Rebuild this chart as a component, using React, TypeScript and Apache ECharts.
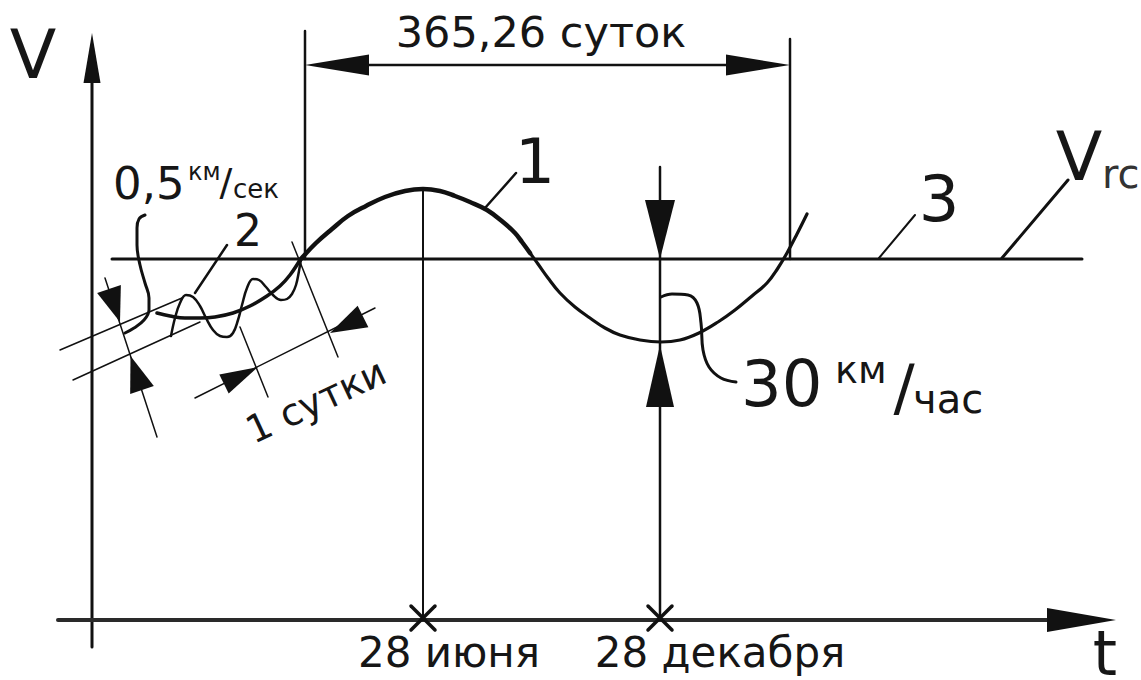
import React, { useEffect, useRef } from "react";
import * as echarts from "echarts";

type Pt = [number, number];

// ---- Diagram coordinates (x to the right, y downward) ----
const vAxisLine: Pt[] = [[92, 647], [92, 80]];
const tAxisLine: Pt[] = [[58, 620], [1050, 620]];
const vrcLine: Pt[] = [[112, 259], [1082, 259]];

// curve 1 : annual variation of velocity
const curve1Left: Pt[] = [
  [157, 313], [170, 316], [185, 318], [200, 318], [215, 317], [233, 313], [250, 306],
  [267, 296], [280, 286], [290, 275], [300, 260],
];
const curve1Top: Pt[] = [
  [300, 260], [316, 243], [332, 229], [348, 216], [366, 206], [385, 197], [405, 191],
  [423, 189], [440, 191], [455, 196], [470, 202], [487, 210], [503, 222], [515, 233],
  [522, 242], [530, 253],
];
const curve1Bottom: Pt[] = [
  [530, 253], [538, 264], [548, 278], [560, 293], [575, 307], [590, 318], [605, 328],
  [620, 335], [640, 340], [661, 342], [680, 340], [699, 333], [718, 322], [735, 310],
  [752, 296], [767, 283], [778, 268], [787, 253], [797, 234], [807, 214],
];
// curve 2 : daily oscillation
const curve2Wave: Pt[] = [
  [171, 336], [175, 318], [180, 303], [186, 295], [193, 297], [200, 306], [206, 318],
  [213, 330], [220, 336], [227, 337], [233, 333], [238, 320], [242, 305], [247, 288],
  [253, 279], [259, 280], [266, 287], [273, 295], [281, 300], [287, 299], [292, 294],
  [296, 285], [299, 271], [301, 259],
];

// dimension "365,26 суток"
const yearExtLeft: Pt[] = [[305, 31], [305, 259]];
const yearExtRight: Pt[] = [[790, 39], [790, 259]];
const yearDim: Pt[] = [[320, 65], [775, 65]];

// drop lines to the time axis
const juneDrop: Pt[] = [[423, 190], [423, 620]];
const decDrop: Pt[] = [[660, 167], [660, 620]];
const crossJuneA: Pt[] = [[411, 606], [435, 630]];
const crossJuneB: Pt[] = [[411, 630], [435, 606]];
const crossDecA: Pt[] = [[648, 606], [672, 630]];
const crossDecB: Pt[] = [[648, 630], [672, 606]];

// leaders
const leader1: Pt[] = [[485, 208], [516, 173]];
const leader2: Pt[] = [[195, 293], [227, 245]];
const leader3: Pt[] = [[879, 258], [915, 215]];
const leaderVrc: Pt[] = [[1002, 258], [1068, 180]];
const leader05: Pt[] = [
  [145, 215], [139, 219], [137, 228], [137, 245], [140, 265], [145, 283], [149, 298],
  [149, 310], [144, 320], [134, 328], [125, 333],
];
const leader30: Pt[] = [
  [661, 297], [672, 294], [688, 295], [697, 303], [701, 323], [703, 350], [709, 367],
  [721, 378], [736, 382],
];

// dimension "0,5 км/сек"
const ampLineA: Pt[] = [[60, 350], [182, 298]];
const ampLineB: Pt[] = [[73, 380], [200, 322]];
const ampDim: Pt[] = [[105, 278], [157, 437]];

// dimension "1 сутки"
const dayExt1: Pt[] = [[240, 327], [268, 397]];
const dayExt2: Pt[] = [[292, 242], [338, 357]];
const dayDim: Pt[] = [[195, 398], [375, 308]];

// arrowheads: tipX, tipY, baseX, baseY, half width (px)
const arrowheads: number[][] = [
  [92, 33, 92, 83, 8.5],
  [1116, 620, 1047, 620, 12],
  [305, 65, 369, 65, 10.5],
  [790, 65, 726, 65, 10.5],
  [660, 259, 660, 200, 15],
  [660, 345, 660, 407, 14],
  [120, 322, 109, 289, 12.5],
  [130.5, 356, 142, 390, 12.5],
  [258, 367, 224, 384, 10.5],
  [330, 333, 363, 316.5, 12],
];

// texts
const labelTexts = [
  "V", "t", "365,26 суток", "1", "2", "3", "V", "rc",
  "0,5", "км", "/", "сек", "30", "км", "/", "час",
  "28 июня", "28 декабря", "1 сутки",
];
const labelPos: Pt[] = [
  [33, 54], [1105, 653], [541, 32], [535, 161], [248, 230], [939, 199], [1079, 156], [1102, 174],
  [113, 183], [188, 172], [226, 182], [233, 189], [741, 384], [835, 370], [904, 387], [913, 399],
  [449, 652], [720, 652], [316, 401],
];
const labelSizes = [68, 62, 43, 63, 44, 64, 68, 40, 45, 24, 38, 26, 64, 38, 63, 40, 42, 42, 38];
const labelAlign = [
  "center", "center", "center", "center", "center", "center", "center", "left",
  "left", "left", "center", "left", "left", "left", "center", "left",
  "center", "center", "center",
];
const labelRotation = [0, 0, 0, 0, 0, 0, 0, 0, 0, 0, 0, 0, 0, 0, 0, 0, 0, 0, 0.436];

const INK = "#111";

function lineSeries(data: Pt[], width: number, smooth: number | boolean = false, color = INK) {
  return {
    type: "line",
    data,
    smooth,
    symbol: "none",
    silent: true,
    clip: false,
    lineStyle: { width, color, cap: "round", join: "round" },
    z: 2,
  };
}

export default function App() {
  const ref = useRef<HTMLDivElement>(null);
  useEffect(() => {
    document.body.style.margin = "0";
    if (!ref.current) return;
    const chart = echarts.init(ref.current, null, { renderer: "svg" });
    const series: any[] = [
      lineSeries(vAxisLine, 3),
      lineSeries(tAxisLine, 4, false, "#2a2a2a"),
      lineSeries(vrcLine, 3),
      lineSeries(curve1Left, 3.5, 0.4),
      lineSeries(curve1Top, 4.5, 0.4),
      lineSeries(curve1Bottom, 3.2, 0.4),
      lineSeries(curve2Wave, 2.5, 0.4),
      lineSeries(yearExtLeft, 2.5),
      lineSeries(yearExtRight, 2.5),
      lineSeries(yearDim, 2.5),
      lineSeries(juneDrop, 2),
      lineSeries(decDrop, 2.5),
      lineSeries(crossJuneA, 3.5),
      lineSeries(crossJuneB, 3.5),
      lineSeries(crossDecA, 3.5),
      lineSeries(crossDecB, 3.5),
      lineSeries(leader1, 2.5),
      lineSeries(leader2, 2.5),
      lineSeries(leader3, 2),
      lineSeries(leaderVrc, 3),
      lineSeries(leader05, 3, 0.4),
      lineSeries(leader30, 3, 0.4),
      lineSeries(ampLineA, 1.5),
      lineSeries(ampLineB, 1.5),
      lineSeries(ampDim, 1.5),
      lineSeries(dayExt1, 1.5),
      lineSeries(dayExt2, 1.5),
      lineSeries(dayDim, 1.5),
      {
        type: "custom",
        silent: true,
        clip: false,
        z: 3,
        data: arrowheads.map((a) => [a[0], a[1]]),
        renderItem: (params: any, api: any) => {
          const a = arrowheads[params.dataIndex];
          const t = api.coord([a[0], a[1]]);
          const b = api.coord([a[2], a[3]]);
          const dx = t[0] - b[0];
          const dy = t[1] - b[1];
          const len = Math.hypot(dx, dy) || 1;
          const nx = -dy / len;
          const ny = dx / len;
          const hw = a[4];
          return {
            type: "polygon",
            shape: {
              points: [
                [t[0], t[1]],
                [b[0] + nx * hw, b[1] + ny * hw],
                [b[0] - nx * hw, b[1] - ny * hw],
              ],
            },
            style: { fill: INK },
          };
        },
      },
      {
        type: "custom",
        silent: true,
        clip: false,
        z: 4,
        data: labelPos,
        renderItem: (params: any, api: any) => {
          const i = params.dataIndex;
          const p = api.coord(labelPos[i]);
          return {
            type: "text",
            x: p[0],
            y: p[1],
            rotation: labelRotation[i],
            style: {
              text: labelTexts[i],
              fontSize: labelSizes[i],
              lineHeight: Math.round(labelSizes[i] * 0.8),
              fontFamily: "DejaVu Sans",
              fill: labelTexts[i] === "rc" ? "#333" : "#161616",
              align: labelAlign[i],
              verticalAlign: "middle",
            },
          };
        },
      },
    ];
    chart.setOption({
      animation: false,
      backgroundColor: "#fff",
      grid: { left: 0, right: 0, top: 0, bottom: 0 },
      xAxis: { type: "value", min: 0, max: 1141, show: false },
      yAxis: { type: "value", min: 0, max: 680, inverse: true, show: false },
      series,
    });
    return () => chart.dispose();
  }, []);
  return <div ref={ref} style={{ width: 1141, height: 680, background: "#fff" }} />;
}
